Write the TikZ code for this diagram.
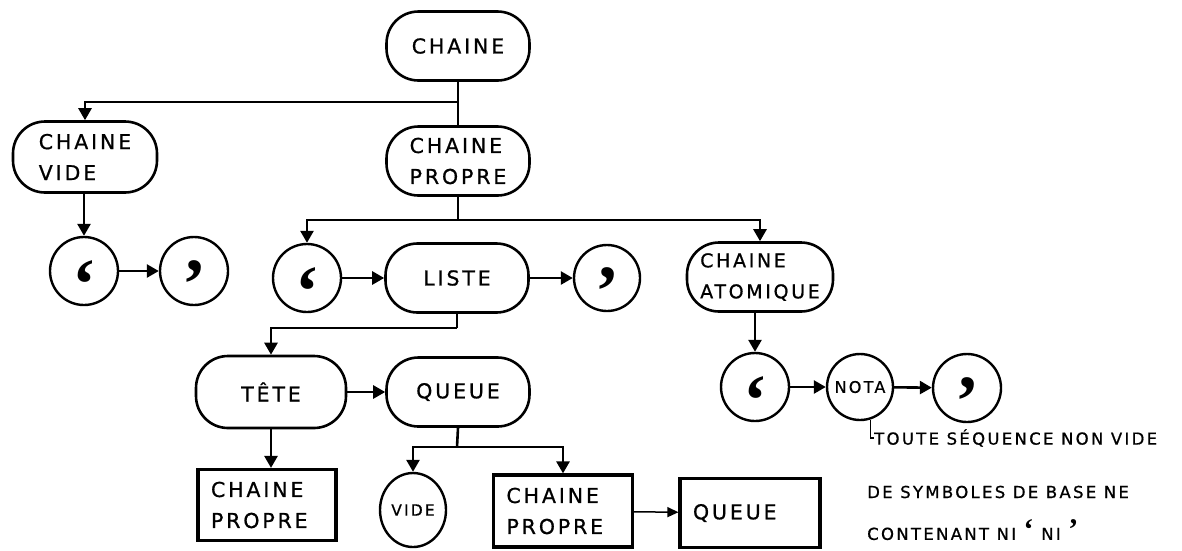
\documentclass[tikz,border=0pt]{standalone}
\usepackage{fontspec}
\newfontfamily\hand[LetterSpace=14,FakeBold=0.8]{DejaVu Sans}
\newfontfamily\qfont{Liberation Serif}
\usetikzlibrary{arrows.meta,shapes.geometric}
\newcommand\qo{{\qfont\bfseries\fontsize{72}{72}\selectfont\smash{\raisebox{-0.52em}{‘}}}}
\newcommand\qc{{\qfont\bfseries\fontsize{72}{72}\selectfont\smash{\raisebox{-0.52em}{’}}}}
\newcommand\qs[1]{{\qfont\bfseries\fontsize{30}{30}\selectfont #1}}
\begin{document}
\begin{tikzpicture}[x=1pt,y=-1pt,
  every node/.style={font=\hand\fontsize{20.5}{31}\selectfont},
  ln/.style={line width=2.6pt},
  arr/.style={line width=2.6pt,-{Triangle[length=12pt,width=13pt]}},
  tarr/.style={line width=1.5pt,-{Triangle[length=11pt,width=10pt]}},
  pill/.style={draw,line width=2.6pt,rectangle,rounded corners=32pt,minimum width=143pt,minimum height=69pt,align=left,inner sep=0pt},
  circ/.style={draw,line width=2.4pt,circle,minimum size=68pt,inner sep=0pt},
  boxx/.style={draw,line width=3.2pt,rectangle,minimum height=71pt,align=left,inner xsep=13pt},
  notetxt/.style={anchor=west,font=\hand\fontsize{16.5}{18}\selectfont,inner sep=0pt}
]
\useasboundingbox (0,0) rectangle (1182,550);

% nodes
\node[pill] (chaine) at (458,46) {CHAINE};
\node[pill,minimum width=144pt,minimum height=71pt] (cvide) at (85,157) {CHAINE\\VIDE};
\node[pill] (cprop) at (458,161) {CHAINE\\PROPRE};
\node[circ] (o1) at (84,271) {\qo};
\node[circ] (c1) at (194,271) {\qc};
\node[circ] (o2) at (307,278) {\qo};
\node[pill] (liste) at (457,278) {LISTE};
\node[circ,minimum size=66pt] (c2) at (607,278) {\qc};
\node[pill,minimum width=146pt,font=\hand\fontsize{19}{31}\selectfont] (atom) at (760,277) {CHAINE\\ATOMIQUE};
\node[pill,minimum width=150pt,minimum height=72pt] (tete) at (271,392) {TÊTE};
\node[pill] (queue) at (458,392) {QUEUE};
\node[boxx,text width=112pt] (b1) at (267,505) {CHAINE\\PROPRE};
\node[draw,line width=2.4pt,ellipse,minimum width=66pt,minimum height=74pt,inner sep=0pt,font=\hand\fontsize{15.5}{18}\selectfont] (vide) at (413,510) {VIDE};
\node[boxx,text width=113pt,minimum height=72pt] (b2) at (563,511) {CHAINE\\PROPRE};
\node[boxx,text width=114pt,minimum height=69pt] (b3) at (750,513) {QUEUE};
\node[circ] (o3) at (755,387) {\qo};
\node[circ,minimum size=66pt,font=\hand\fontsize{16}{18}\selectfont] (nota) at (860,387) {NOTA};
\node[circ] (c3) at (967,388) {\qc};
\node[notetxt] (n1) at (874,438) {TOUTE SÉQUENCE NON VIDE};
\node[notetxt] (n2) at (867,492) {DE SYMBOLES DE BASE NE};
\node[notetxt] (n3) at (867,530) {CONTENANT NI \qs{‘} NI \qs{’}};

% junctions
\coordinate (j1) at (458,102);
\coordinate (j2) at (458,220);
\coordinate (j3) at (457,328);
\coordinate (j4) at (457,447);

% connectors
\draw[ln] (chaine.south) -- (cprop.north);
\draw[arr] (j1) -| (cvide.north);
\draw[ln] (cprop.south) -- (j2);
\draw[arr] (j2) -| (o2.north);
\draw[arr] (j2) -| (atom.north);
\draw[arr] (cvide.south -| o1.north) -- (o1.north);
\draw[arr] (o1) -- (c1);
\draw[arr] (o2) -- (liste);
\draw[arr] (liste) -- (c2);
\draw[ln] (liste.south) -- (j3);
\draw[arr] (j3) -| (tete.north);
\draw[arr] (tete) -- (queue);
\draw[arr] (tete.south) -- (tete.south |- b1.north);
\draw[ln] (queue.south) -- (j4);
\draw[arr] (j4) -| (vide.north);
\draw[arr] (j4) -| (b2.north);
\draw[tarr] (b2) -- (b3);
\draw[arr] (atom.south -| o3.north) -- (o3.north);
\draw[arr] (o3) -- (nota);
\draw[arr] (nota) -- (c3);
\draw[line width=1.5pt] (nota.-72) |- (n1.west);
\end{tikzpicture}
\end{document}
